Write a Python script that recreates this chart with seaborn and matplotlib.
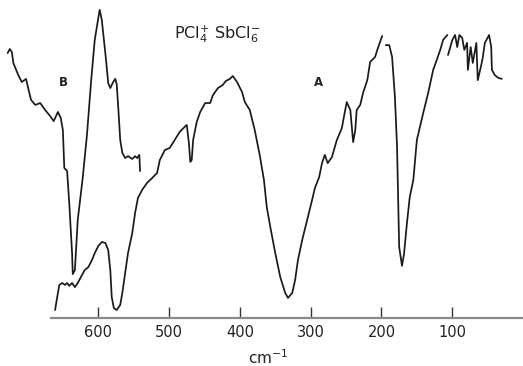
"""Far-IR spectrum of PCl4+ SbCl6- (traces A and B), redrawn with seaborn."""

import matplotlib

matplotlib.use("Agg")
import matplotlib.pyplot as plt
import pandas as pd
import seaborn as sns

# trace B (upper-left, short range)
B_WAVENUMBER = [728, 725, 722, 720, 713, 708, 702, 699, 695, 689, 682, 675, 668, 663,
                657, 653, 650, 648, 644, 641, 637, 636, 633, 629, 622, 616, 610, 605,
                600, 598, 595, 592, 589, 586, 583, 579, 576, 574, 572, 569, 566, 562,
                558, 552, 548, 545, 542, 541]
B_TRANSMITTANCE = [83.3, 84.6, 83.6, 80.2, 76.4, 74.2, 75.2, 72.3, 68.6, 67.0, 67.6,
                   65.4, 63.5, 61.9, 64.8, 62.9, 59.1, 47.2, 46.2, 36.2, 20.4, 13.8,
                   15.1, 30.8, 44.0, 57.5, 74.8, 87.4, 94.3, 96.9, 93.7, 87.4, 81.1,
                   73.9, 72.3, 74.2, 75.2, 73.6, 67.0, 56.0, 51.9, 50.3, 50.9, 50.0,
                   50.9, 50.3, 51.3, 46.2]

# trace A, drawn in three pieces (pen lifts at ~197 and ~106 cm-1)
A1_WAVENUMBER = [661, 658, 655, 651, 647, 644, 641, 637, 633, 629, 623, 619, 614, 609,
                 605, 600, 595, 590, 586, 583, 581, 578, 574, 569, 566, 562, 558, 552,
                 548, 544, 538, 531, 524, 517, 513, 506, 499, 492, 485, 478, 475, 472,
                 470, 468, 466, 461, 456, 449, 442, 438, 431, 424, 420, 414, 410, 404,
                 397, 393, 386, 379, 372, 366, 362, 357, 350, 343, 336, 332, 326, 322,
                 318, 312, 305, 298, 294, 288, 284, 280, 276, 270, 263, 256, 252, 249,
                 244, 240, 237, 235, 230, 226, 220, 216, 209, 205, 199]
A1_TRANSMITTANCE = [2.5, 6.6, 10.4, 11.0, 10.4, 11.0, 10.1, 11.0, 9.7, 11.0, 13.5, 15.1,
                    16.0, 18.2, 20.4, 22.6, 23.9, 23.6, 21.4, 15.1, 6.6, 3.1, 2.5, 4.1,
                    7.9, 14.2, 20.4, 26.7, 33.0, 37.7, 40.3, 42.5, 44.0, 45.6, 49.7,
                    52.8, 53.5, 56.0, 58.5, 60.1, 60.7, 55.0, 49.1, 49.7, 56.0, 61.6,
                    64.8, 67.6, 67.6, 70.1, 72.3, 73.3, 74.5, 75.2, 76.1, 74.2, 71.1,
                    67.9, 65.4, 59.1, 51.3, 43.4, 34.9, 28.6, 20.4, 12.9, 7.9, 6.3, 7.9,
                    11.9, 18.2, 24.5, 30.8, 37.1, 40.9, 44.3, 48.7, 51.3, 48.7, 50.6,
                    56.0, 59.7, 64.5, 67.9, 65.4, 55.3, 59.1, 65.4, 67.0, 70.8, 74.8,
                    80.5, 82.1, 84.9, 88.7]
A2_WAVENUMBER = [194, 189, 185, 181, 178, 175, 171, 168, 164, 160, 155, 150, 141, 134,
                 127, 122, 117, 113, 107]
A2_TRANSMITTANCE = [85.8, 85.8, 82.1, 69.5, 53.8, 22.3, 16.4, 20.4, 29.9, 38.1, 43.4,
                    56.0, 64.5, 70.8, 78.0, 81.1, 84.3, 87.4, 89.0]
A3_WAVENUMBER = [106, 100, 96, 93, 90, 86, 83, 79, 78, 74, 71, 66, 64, 59, 57, 54, 48,
                 45, 44, 40, 35, 30]
A3_TRANSMITTANCE = [82.7, 87.4, 89.0, 85.2, 89.0, 88.1, 84.3, 86.5, 78.0, 85.2, 80.2,
                    86.5, 74.8, 79.6, 81.8, 86.5, 89.0, 85.2, 78.0, 76.4, 75.5, 75.2]

TICKS = [600, 500, 400, 300, 200, 100]
TITLE = r"PCl$_4^{+}$ SbCl$_6^{-}$"


def build_frame() -> pd.DataFrame:
    parts = [
        ("B", B_WAVENUMBER, B_TRANSMITTANCE),
        ("A1", A1_WAVENUMBER, A1_TRANSMITTANCE),
        ("A2", A2_WAVENUMBER, A2_TRANSMITTANCE),
        ("A3", A3_WAVENUMBER, A3_TRANSMITTANCE),
    ]
    frames = [
        pd.DataFrame({"segment": name, "wavenumber": w, "transmittance": t})
        for name, w, t in parts
    ]
    return pd.concat(frames, ignore_index=True)


def main() -> None:
    sns.set_theme(style="white")
    plt.rcParams["font.family"] = ["DejaVu Sans"]
    df = build_frame()

    fig = plt.figure(figsize=(5.23, 3.66), dpi=100)
    ax = fig.add_axes([0, 0, 1, 1])
    sns.lineplot(
        data=df,
        x="wavenumber",
        y="transmittance",
        units="segment",
        estimator=None,
        sort=False,
        color="#1a1a1a",
        linewidth=1.25,
        ax=ax,
    )
    ax.set_xlim(738.8, 0.1)
    ax.set_ylim(-15.1, 100)

    for side in ["top", "left", "right"]:
        ax.spines[side].set_visible(False)
    ax.spines["bottom"].set_position(("data", 0))
    ax.spines["bottom"].set_bounds(0.1, 667)
    ax.spines["bottom"].set_color("#8a8a8a")
    ax.spines["bottom"].set_linewidth(1.6)
    ax.set_xticks(TICKS)
    ax.set_xticklabels([str(t) for t in TICKS])
    ax.tick_params(axis="x", direction="in", length=8, width=1.0, color="#333333",
                   pad=5, labelsize=10.5, labelcolor="#222222", bottom=True)
    ax.set_yticks([])
    ax.set_xlabel("")
    ax.set_ylabel("")

    # labels placed in figure fractions
    ax.text(217 / 523, 1 - 34 / 366, TITLE, transform=fig.transFigure, fontsize=11.5,
            ha="center", va="center", color="#222222")
    ax.text(63 / 523, 1 - 83 / 366, "B", transform=fig.transFigure, fontsize=8.5,
            fontweight="bold", ha="center", va="center", color="#222222")
    ax.text(318 / 523, 1 - 83 / 366, "A", transform=fig.transFigure, fontsize=8.5,
            fontweight="bold", ha="center", va="center", color="#222222")
    ax.text(268 / 523, 8 / 366, r"cm$^{-1}$", transform=fig.transFigure, fontsize=11,
            ha="center", va="center", color="#222222")

    fig.savefig("out.png", dpi=100)
    plt.close(fig)


if __name__ == "__main__":
    main()
